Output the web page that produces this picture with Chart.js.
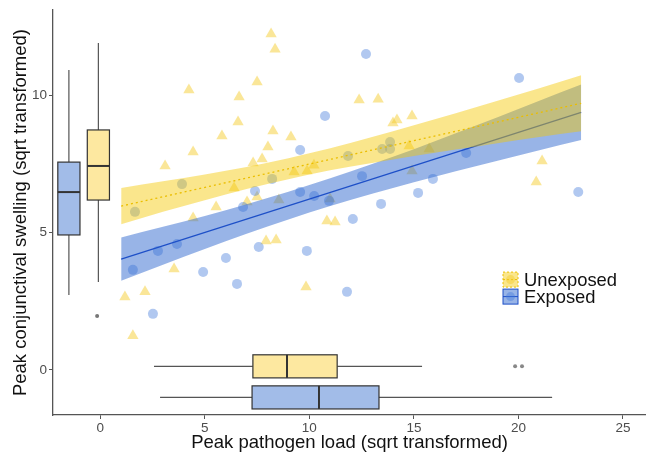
<!DOCTYPE html>
<html>
<head>
<meta charset="utf-8">
<script src="https://cdn.jsdelivr.net/npm/chart.js@4.4.1/dist/chart.umd.min.js"></script>
<style>
  html, body { margin: 0; padding: 0; background: #fff; overflow: hidden; }
  #wrap { width: 646px; height: 455px; position: relative; }
  canvas { display: block; }
</style>
</head>
<body>
<div id="wrap"><canvas id="chart"></canvas></div>
<script>
// Groups, in legend order
const groups = ['Unexposed', 'Exposed'];

// Raw points: peak pathogen load (x) and peak conjunctival swelling (y), sqrt transformed
const unexposedLoad = [8.17, 8.36, 7.50, 4.24, 6.64, 6.59, 5.82, 8.26, 9.12, 4.44, 8.02, 3.10, 7.31, 7.74, 9.27, 9.89, 10.22, 6.40, 7.02, 7.50, 5.54, 4.44, 8.54, 7.93, 8.41, 3.53, 1.18, 2.14, 1.56, 10.84, 11.23, 10.99, 9.84, 12.38, 13.29, 14.91, 14.19, 14.00, 14.77, 15.73, 14.91, 21.13, 20.85];
const unexposedSwell = [12.22, 11.67, 10.47, 10.18, 9.93, 9.02, 8.51, 8.69, 8.47, 7.93, 8.11, 7.42, 7.53, 7.67, 7.20, 7.24, 7.45, 6.62, 6.11, 6.29, 5.93, 5.53, 6.18, 4.69, 4.73, 3.67, 2.65, 2.84, 1.24, 5.42, 5.38, 6.22, 3.02, 9.82, 9.85, 9.24, 9.09, 8.98, 8.15, 8.04, 7.24, 7.60, 6.84];
const exposedLoad = [10.75, 9.56, 8.22, 7.40, 9.56, 10.23, 3.91, 1.66, 6.83, 10.94, 2.76, 3.67, 1.56, 4.92, 6.01, 6.54, 7.58, 2.52, 9.88, 12.52, 15.91, 15.20, 13.43, 12.08, 11.80, 12.71, 11.85, 13.48, 13.86, 13.86, 17.50, 20.03, 22.86];
const exposedSwell = [9.24, 8.00, 6.95, 6.51, 6.47, 6.33, 6.76, 5.75, 5.93, 6.15, 4.33, 4.58, 3.64, 3.56, 4.07, 3.13, 4.47, 2.04, 4.33, 7.05, 6.95, 6.44, 6.04, 5.49, 2.84, 11.49, 7.78, 8.04, 8.04, 8.29, 7.89, 10.62, 6.47];

// Fitted lines (end points)
const fitEnds = [1.0, 23.0];
const unexposedFit = [5.96, 9.70];
const exposedFit = [4.03, 9.37];

// Confidence bands, read at these loads
const bandLoad = [1, 3, 5, 7, 9, 11, 13, 15, 17, 19, 21, 23];
const unexposedUpper = [6.62, 6.86, 7.11, 7.38, 7.70, 8.06, 8.47, 8.90, 9.34, 9.79, 10.25, 10.72];
const unexposedLower = [5.30, 5.75, 6.17, 6.58, 6.94, 7.26, 7.53, 7.78, 8.02, 8.25, 8.47, 8.68];
const exposedUpper = [4.82, 5.21, 5.60, 6.03, 6.48, 6.97, 7.49, 8.03, 8.61, 9.19, 9.79, 10.38];
const exposedLower = [3.24, 3.83, 4.40, 4.95, 5.47, 5.96, 6.41, 6.83, 7.23, 7.61, 7.99, 8.36];

// Marginal boxplots of swelling (left side), per group
const swellMin = [3.20, 2.73];
const swellQ1 = [6.18, 4.91];
const swellMed = [7.42, 6.47];
const swellQ3 = [8.73, 7.56];
const swellMax = [11.89, 10.91];
const swellOut = [[1.96], []];

// Marginal boxplots of load (bottom), per group
const loadMin = [2.57, 2.86];
const loadQ1 = [7.30, 7.26];
const loadMed = [8.93, 10.46];
const loadQ3 = [11.33, 13.33];
const loadMax = [15.39, 21.61];
const loadOut = [[19.84, 20.17], []];

// Tick labels
const xTicks = [0, 5, 10, 15, 20, 25];
const yTicks = [0, 5, 10];

const FONT = "'Liberation Sans', Arial, sans-serif";
Chart.defaults.font.family = FONT;

const yellowPoint = 'rgba(245,205,50,0.5)';
const bluePoint = 'rgba(70,125,220,0.42)';
const yellowBand = 'rgba(245,200,0,0.45)';
const blueBand = 'rgba(50,105,208,0.5)';
const yellowLine = 'rgb(235,190,0)';
const blueLine = 'rgb(30,80,200)';
const boxFill = ['#fde8a0', '#a2bce8'];

function pts(xs, ys) {
    return xs.map((x, i) => ({ x: x, y: ys[i] }));
}

// Draws the marginal boxplots through the chart's scales
const boxPlugin = {
    id: 'boxes',
    afterDatasetsDraw(chart, args, opts) {
        const { ctx } = chart;
        const xs = chart.scales.x, ys = chart.scales.y;
        ctx.save();
        ctx.lineWidth = 1.2;

        groups.forEach((g, i) => {
            // vertical box (swelling)
            const c = opts.swellAt[i];
            const l = xs.getPixelForValue(c - opts.half);
            const r = xs.getPixelForValue(c + opts.half);
            const m = xs.getPixelForValue(c);
            const q1 = ys.getPixelForValue(swellQ1[i]);
            const q3 = ys.getPixelForValue(swellQ3[i]);
            ctx.strokeStyle = '#555';
            ctx.beginPath();
            ctx.moveTo(m, ys.getPixelForValue(swellMax[i])); ctx.lineTo(m, q3);
            ctx.moveTo(m, q1); ctx.lineTo(m, ys.getPixelForValue(swellMin[i]));
            ctx.stroke();
            ctx.fillStyle = boxFill[i];
            ctx.fillRect(l, q3, r - l, q1 - q3);
            ctx.strokeStyle = '#333';
            ctx.strokeRect(l, q3, r - l, q1 - q3);
            ctx.lineWidth = 2;
            ctx.beginPath();
            const md = ys.getPixelForValue(swellMed[i]);
            ctx.moveTo(l, md); ctx.lineTo(r, md);
            ctx.stroke();
            ctx.lineWidth = 1.2;
            ctx.fillStyle = '#777';
            swellOut[i].forEach(v => {
                ctx.beginPath();
                ctx.arc(xs.getPixelForValue(c - 0.06), ys.getPixelForValue(v), 2, 0, Math.PI * 2);
                ctx.fill();
            });

            // horizontal box (load)
            const cy = opts.loadAt[i];
            const t = ys.getPixelForValue(cy + opts.halfY);
            const b = ys.getPixelForValue(cy - opts.halfY);
            const mid = ys.getPixelForValue(cy);
            const p1 = xs.getPixelForValue(loadQ1[i]);
            const p3 = xs.getPixelForValue(loadQ3[i]);
            ctx.strokeStyle = '#555';
            ctx.beginPath();
            ctx.moveTo(xs.getPixelForValue(loadMin[i]), mid); ctx.lineTo(p1, mid);
            ctx.moveTo(p3, mid); ctx.lineTo(xs.getPixelForValue(loadMax[i]), mid);
            ctx.stroke();
            ctx.fillStyle = boxFill[i];
            ctx.fillRect(p1, t, p3 - p1, b - t);
            ctx.strokeStyle = '#333';
            ctx.strokeRect(p1, t, p3 - p1, b - t);
            ctx.lineWidth = 2;
            ctx.beginPath();
            const mx = xs.getPixelForValue(loadMed[i]);
            ctx.moveTo(mx, t); ctx.lineTo(mx, b);
            ctx.stroke();
            ctx.lineWidth = 1.2;
            ctx.fillStyle = '#888';
            loadOut[i].forEach(v => {
                ctx.beginPath();
                ctx.arc(xs.getPixelForValue(v), mid, 2, 0, Math.PI * 2);
                ctx.fill();
            });
        });
        ctx.restore();
    }
};

// Legend inside the plot, bottom right
const legendPlugin = {
    id: 'insideLegend',
    afterDraw(chart) {
        const { ctx, chartArea } = chart;
        const x0 = chartArea.left + 450;
        const y0 = chartArea.top + 262;
        const key = 15, gap = 17;
        const fills = [yellowBand, blueBand];
        const lines = [yellowLine, blueLine];
        const dots = [yellowPoint, bluePoint];
        ctx.save();
        groups.forEach((g, i) => {
            const ky = y0 + i * gap;
            ctx.fillStyle = fills[i];
            ctx.fillRect(x0, ky, key, key);
            ctx.strokeStyle = lines[i];
            ctx.lineWidth = 1;
            ctx.setLineDash(i === 0 ? [2, 2] : []);
            ctx.strokeRect(x0, ky, key, key);
            ctx.beginPath();
            ctx.moveTo(x0, ky + key / 2); ctx.lineTo(x0 + key, ky + key / 2);
            ctx.stroke();
            ctx.setLineDash([]);
            ctx.fillStyle = dots[i];
            ctx.beginPath();
            ctx.arc(x0 + key / 2, ky + key / 2, 4.5, 0, Math.PI * 2);
            ctx.fill();
            ctx.fillStyle = '#111';
            ctx.font = '18.4px ' + FONT;
            ctx.textBaseline = 'middle';
            ctx.fillText(g, x0 + key + 6, ky + key / 2 + 1);
        });
        ctx.restore();
    }
};

const datasets = [
    {
        label: 'Unexposed',
        data: pts(unexposedLoad, unexposedSwell),
        pointStyle: 'triangle', pointRadius: 6.5, pointHoverRadius: 6.5,
        pointBackgroundColor: yellowPoint, pointBorderWidth: 0,
        order: 10
    },
    {
        label: 'Exposed',
        data: pts(exposedLoad, exposedSwell),
        pointStyle: 'circle', pointRadius: 5, pointHoverRadius: 5,
        pointBackgroundColor: bluePoint, pointBorderWidth: 0,
        order: 9
    },
    {
        label: 'exposed upper',
        data: pts(bandLoad, exposedUpper),
        showLine: true, fill: '+1', backgroundColor: blueBand,
        borderColor: 'transparent', borderWidth: 0, pointRadius: 0,
        cubicInterpolationMode: 'monotone', order: 6
    },
    {
        label: 'exposed lower',
        data: pts(bandLoad, exposedLower),
        showLine: true, borderColor: 'transparent', borderWidth: 0, pointRadius: 0,
        cubicInterpolationMode: 'monotone', order: 6
    },
    {
        label: 'exposed fit',
        data: pts(fitEnds, exposedFit),
        showLine: true, borderColor: blueLine, borderWidth: 1.2, pointRadius: 0,
        order: 5
    },
    {
        label: 'unexposed upper',
        data: pts(bandLoad, unexposedUpper),
        showLine: true, fill: '+1', backgroundColor: yellowBand,
        borderColor: 'transparent', borderWidth: 0, pointRadius: 0,
        cubicInterpolationMode: 'monotone', order: 4
    },
    {
        label: 'unexposed lower',
        data: pts(bandLoad, unexposedLower),
        showLine: true, borderColor: 'transparent', borderWidth: 0, pointRadius: 0,
        cubicInterpolationMode: 'monotone', order: 4
    },
    {
        label: 'unexposed fit',
        data: pts(fitEnds, unexposedFit),
        showLine: true, borderColor: yellowLine, borderWidth: 1.3, borderDash: [2, 3],
        pointRadius: 0, order: 3
    }
];

new Chart(document.getElementById('chart'), {
    type: 'scatter',
    data: { datasets: datasets },
    plugins: [boxPlugin, legendPlugin],
    options: {
        responsive: true,
        maintainAspectRatio: false,
        animation: false,
        events: [],
        // no auto padding for point overflow, so the x axis runs to the canvas edge
        layout: { autoPadding: false, padding: { top: 10, right: 0, left: 0, bottom: 0 } },
        plugins: {
            legend: { display: false },
            tooltip: { enabled: false },
            boxes: { swellAt: [-0.09, -1.50], half: 0.53, loadAt: [0.13, -1.0], halfY: 0.42 }
        },
        scales: {
            x: {
                type: 'linear', min: -2.26, max: 26.1,
                afterBuildTicks: s => { s.ticks = xTicks.map(v => ({ value: v })); },
                afterFit: s => { s.height = 40; },
                grid: { drawOnChartArea: false, tickLength: 4, color: '#555', lineWidth: 1 },
                border: { display: true, color: '#555', width: 1.3 },
                ticks: { color: '#4d4d4d', font: { size: 13.5 }, padding: 1, maxRotation: 0 },
                title: {
                    display: true, text: 'Peak pathogen load (sqrt transformed)',
                    color: '#111', font: { size: 18.5 }, padding: { top: 0, bottom: 1 }
                }
            },
            y: {
                type: 'linear', min: -1.64, max: 13.09,
                afterBuildTicks: s => { s.ticks = yTicks.map(v => ({ value: v })); },
                afterFit: s => { s.width = 53; },
                grid: { drawOnChartArea: false, tickLength: 4, color: '#555', lineWidth: 1 },
                border: { display: true, color: '#555', width: 1.3 },
                ticks: { color: '#4d4d4d', font: { size: 13.5 }, padding: 2 },
                title: {
                    display: true, text: 'Peak conjunctival swelling (sqrt transformed)',
                    color: '#111', font: { size: 18.5 }, padding: { top: 10, bottom: 0 }
                }
            }
        }
    }
});
</script>
</body>
</html>
